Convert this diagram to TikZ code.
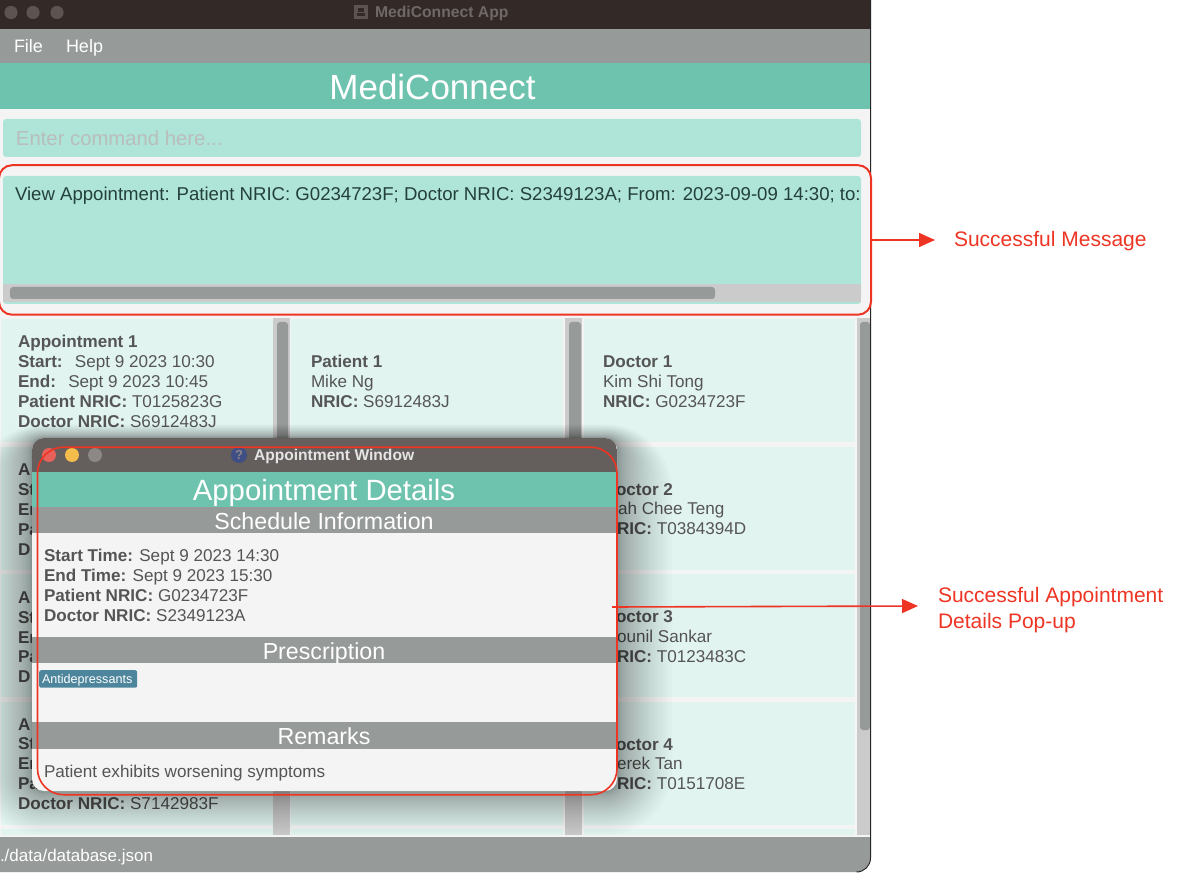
\documentclass[tikz,border=0pt]{standalone}
\usepackage{fontspec}
\setmainfont{Liberation Sans}
\usetikzlibrary{arrows.meta}
\definecolor{titlebar}{HTML}{332A28}
\definecolor{titlelt}{HTML}{5D5350}
\definecolor{titletx}{HTML}{6E6866}
\definecolor{menugrey}{HTML}{969A98}
\definecolor{teal}{HTML}{6EC3AE}
\definecolor{panelbg}{HTML}{F4F4F4}
\definecolor{mint}{HTML}{AEE5D8}
\definecolor{cardbg}{HTML}{E2F4F0}
\definecolor{track}{HTML}{CBCBCB}
\definecolor{poptitle}{HTML}{645E5C}
\definecolor{redmark}{HTML}{EE3524}
\definecolor{tagblue}{HTML}{4D869C}
\definecolor{bodytx}{HTML}{555555}
\definecolor{cmdtx}{HTML}{B9BDBB}
\definecolor{msgtx}{HTML}{24403A}
\definecolor{lightred}{HTML}{E8605A}
\definecolor{lightamber}{HTML}{F4BC4B}
\definecolor{lightgrey}{HTML}{8C8886}
\definecolor{qblue}{HTML}{3F4F86}
\tikzset{
  txt/.style={anchor=base west,inner sep=0pt,outer sep=0pt,text=bodytx,font=\fontsize{17.1}{19}\selectfont},
  head/.style={anchor=base,inner sep=0pt,outer sep=0pt,text=white},
  card/.style={fill=cardbg,draw=none},
  redbox/.style={draw=redmark,line width=2pt,rounded corners=13pt,fill=none},
  redarrow/.style={draw=redmark,line width=1.6pt,-{Triangle[length=16pt,width=14pt]}},
  redtx/.style={anchor=base west,inner sep=0pt,outer sep=0pt,text=redmark,font=\fontsize{21}{24}\selectfont},
  inner/.style={inner sep=0pt,outer sep=0pt},
}
\begin{document}
\begin{tikzpicture}[x=1pt,y=-1pt]
\useasboundingbox (0,0) rectangle (1180,874);
\fill[white] (0,0) rectangle (1180,874);
% main window
\fill[panelbg] (0,0) -- (870,0) -- (870,858) arc[start angle=0,end angle=90,radius=14] -- (0,872) -- cycle;
\fill[titlebar] (0,0) rectangle (870,29);
\fill[menugrey] (0,29) rectangle (870,63);
\fill[teal] (0,63) rectangle (870,109);
\foreach \x in {11,33,57}{\fill[titlelt] (\x,12.5) circle[radius=6.6];}
\fill[titlelt] (354,5) rectangle (368,19);
\fill[titlebar] (358,8) rectangle (364,12);
\fill[titlebar] (357,13) rectangle (365,16);
\node[inner,anchor=base west,text=titletx,font=\bfseries\fontsize{15.7}{17}\selectfont] (apptitle) at (375,17.5) {MediConnect App};
\node[inner,anchor=base west,text=white,font=\fontsize{18}{20}\selectfont] (mfile) at (14,52.5) {File};
\node[inner,anchor=base west,text=white,font=\fontsize{18}{20}\selectfont] (mhelp) at (66,52.5) {Help};
\node[head,font=\fontsize{35}{38}\selectfont] (brand) at (432.5,99.5) {MediConnect};
% command box
\fill[mint,rounded corners=3pt] (3,119) rectangle (861,157);
\node[inner,anchor=base west,text=cmdtx,font=\fontsize{20.3}{22}\selectfont] (cmd) at (16,146) {Enter command here...};
% result box
\fill[mint,rounded corners=3pt] (3,176) rectangle (861,304);
\begin{scope}
\clip (3,176) rectangle (861,304);
\node[inner,anchor=base west,text=msgtx,font=\fontsize{18.6}{20}\selectfont] (msg) at (15,200.5) {View Appointment: Patient NRIC: G0234723F; Doctor NRIC: S2349123A; From: 2023-09-09 14:30; to: 2023};
\end{scope}
\fill[track] (3,284) rectangle (861,302);
\fill[menugrey,rounded corners=3pt] (10,287) rectangle (715,299);
% list columns
\foreach \x/\w in {1/272,291/272,584/271}{
  \foreach \y/\h in {319/123,447/123,574/123,702/123}{
    \fill[card] (\x,\y) rectangle ++(\w,\h);
  }
  \fill[card] (\x,829) rectangle ++(\w,6);
}
\fill[track] (273,318) rectangle (290,835);
\fill[track] (565,318) rectangle (582,835);
\fill[track] (857,318) rectangle (870,835);
\fill[menugrey,rounded corners=3pt] (277,322) rectangle (288,700);
\fill[menugrey,rounded corners=3pt] (569,322) rectangle (581,700);
\fill[menugrey,rounded corners=3pt] (860,322) rectangle (870,730);
% status bar
\path[fill=menugrey] (0,837) -- (870,837) -- (870,858) arc[start angle=0,end angle=90,radius=14] -- (0,872) -- cycle;
\node[inner,anchor=base west,text=white,font=\fontsize{17}{19}\selectfont] (status) at (0,861) {./data/database.json};
% card text: column 1
\node[txt] (a1) at (18,347.5) {\textbf{Appointment 1}};
\node[txt] (a2) at (18,367.5) {\textbf{Start:}\hspace{6pt} Sept 9 2023 10:30};
\node[txt] (a3) at (18,387) {\textbf{End:}\hspace{6pt} Sept 9 2023 10:45};
\node[txt] (a4) at (18,407) {\textbf{Patient NRIC:} T0125823G};
\node[txt] (a5) at (18,427) {\textbf{Doctor NRIC:} S6912483J};
\foreach \y/\t [count=\i] in {475/A,495/St,515/En,535/Pa,555/D,603/A,623/St,643/En,662/Pa,682/D,730/A,749/St,769/En,789/Pa}{
  \node[txt,font=\bfseries\fontsize{17.1}{19}\selectfont] (ap\i) at (18,\y) {\t};
}
\node[txt] (a9) at (18,809) {\textbf{Doctor NRIC:} S7142983F};
% column 2
\node[txt] (p1) at (311,367.5) {\textbf{Patient 1}};
\node[txt] (p2) at (311,387) {Mike Ng};
\node[txt] (p3) at (311,407) {\textbf{NRIC:} S6912483J};
% column 3
\node[txt] (d1) at (603,367.5) {\textbf{Doctor 1}};
\node[txt] (d2) at (603,387) {Kim Shi Tong};
\node[txt] (d3) at (603,407) {\textbf{NRIC:} G0234723F};
\node[txt] (e1) at (616,495) {\textbf{octor 2}};
\node[txt] (e2) at (618,514.5) {ah Chee Teng};
\node[txt] (e3) at (617,534.5) {\textbf{RIC:} T0384394D};
\node[txt] (f1) at (616,622.5) {\textbf{octor 3}};
\node[txt] (f2) at (617,642) {ounil Sankar};
\node[txt] (f3) at (617,662) {\textbf{RIC:} T0123483C};
\node[txt] (g1) at (616,750) {\textbf{octor 4}};
\node[txt] (g2) at (617,769.5) {erek Tan};
\node[txt] (g3) at (617,789.5) {\textbf{RIC:} T0151708E};
% popup shadow
\begin{scope}
\clip (0,318) rectangle (870,837);
\foreach \i in {1,...,30}{
  \pgfmathsetmacro{\d}{55*(\i/30)^2}
  \pgfmathsetmacro{\rr}{12+\d}
  \fill[black,opacity=0.014,rounded corners=\rr pt] (32-\d,438-0.25*\d) rectangle (617+\d,791+\d*0.8);
}
\end{scope}
% popup
\path[fill=panelbg,rounded corners=12pt] (32,438) rectangle (617,791);
\begin{scope}
\clip[rounded corners=12pt] (32,438) rectangle (617,791);
\fill[poptitle] (32,438) rectangle (617,472);
\fill[teal] (32,472) rectangle (617,507);
\fill[menugrey] (32,507) rectangle (617,533);
\fill[menugrey] (32,637) rectangle (617,663);
\fill[menugrey] (32,722) rectangle (617,749);
\end{scope}
\fill[lightred] (49,455) circle[radius=7];
\fill[lightamber] (72,455) circle[radius=7];
\fill[lightgrey] (95,455) circle[radius=7];
\fill[qblue] (239,455) circle[radius=8];
\node[inner,text=lightgrey,font=\bfseries\fontsize{13}{15}\selectfont] (qmark) at (239,455) {?};
\node[inner,anchor=base west,text=white!90!black,font=\bfseries\fontsize{15.6}{17}\selectfont] (poptt) at (254,460) {Appointment Window};
\node[head,font=\fontsize{29.3}{32}\selectfont] (hd) at (324,500) {Appointment Details};
\node[head,font=\fontsize{23.2}{26}\selectfont] (h1) at (324,529) {Schedule Information};
\node[head,font=\fontsize{23.2}{26}\selectfont] (h2) at (324,659) {Prescription};
\node[head,font=\fontsize{23.2}{26}\selectfont] (h3) at (324,744) {Remarks};
\node[txt] (s1) at (44,561.5) {\textbf{Start Time:} Sept 9 2023 14:30};
\node[txt] (s2) at (44,581.5) {\textbf{End Time:} Sept 9 2023 15:30};
\node[txt] (s3) at (44,601) {\textbf{Patient NRIC:} G0234723F};
\node[txt] (s4) at (44,621) {\textbf{Doctor NRIC:} S2349123A};
\node[fill=tagblue,rounded corners=2pt,inner sep=0pt,minimum width=98pt,minimum height=17.5pt,anchor=north west] (tag) at (39,670) {};
\node[inner,anchor=base west,text=white,font=\fontsize{12.6}{14}\selectfont] (tagt) at (42,683) {Antidepressants};
\node[txt] (rem) at (44,777) {Patient exhibits worsening symptoms};
% window edge
\draw[black!85,line width=1pt] (870.5,0) -- (870.5,858) arc[start angle=0,end angle=90,radius=14];
% annotations
\node[redbox,inner sep=0pt,outer sep=0pt,minimum width=872pt,minimum height=149.5pt,anchor=north west] (msgbox) at (-1,165.2) {};
\node[redbox,rounded corners=26pt,line width=1.6pt,inner sep=0pt,outer sep=0pt,minimum width=579.5pt,minimum height=347.5pt,anchor=north west] (popbox) at (37.5,447.2) {};
\coordinate (msgend) at (935,240);
\coordinate (popstart) at (612,607);
\coordinate (popend) at (918,606);
\draw[redarrow] (msgbox.east |- msgend) -- (msgend);
\draw[redarrow] (popstart) -- (popend);
\node[redtx] (l1) at (954,247) {Successful Message};
\node[redtx] (l2) at (938,602) {Successful Appointment};
\node[redtx] (l3) at (938,628) {Details Pop-up};
\end{tikzpicture}
\end{document}
